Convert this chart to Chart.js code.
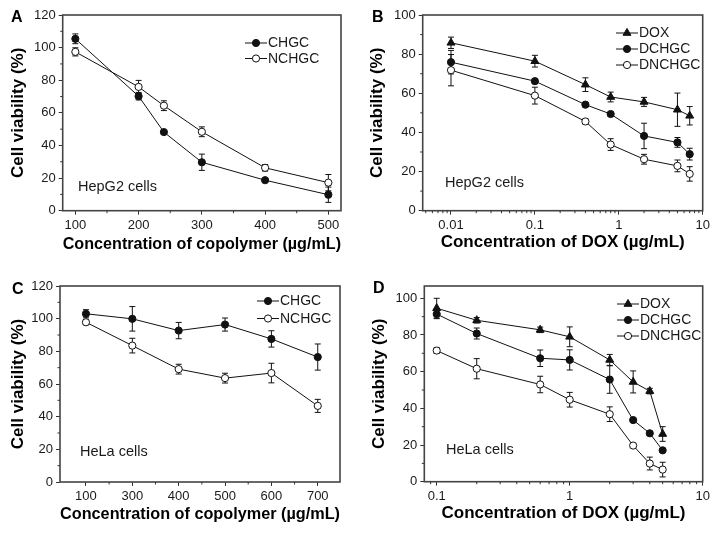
<!DOCTYPE html>
<html>
<head>
<meta charset="utf-8">
<script src="https://cdn.jsdelivr.net/npm/chart.js@4.4.1/dist/chart.umd.min.js"></script>
<style>
body { margin: 0; background: #fff; }
#wrap { position: relative; width: 720px; height: 534px; }
.panel { position: absolute; width: 360px; height: 267px; }
</style>
</head>
<body>
<div id="wrap">
  <div class="panel" style="left:0;top:0"><canvas id="chartA" width="360" height="267"></canvas></div>
  <div class="panel" style="left:360px;top:0"><canvas id="chartB" width="360" height="267"></canvas></div>
  <div class="panel" style="left:0;top:267px"><canvas id="chartC" width="360" height="267"></canvas></div>
  <div class="panel" style="left:360px;top:267px"><canvas id="chartD" width="360" height="267"></canvas></div>
</div>
<script>
// --- Panel A: HepG2, copolymer ---
const aConc = [100, 200, 240, 300, 400, 500];
const aCHGC = [105.4, 70.2, 48.2, 29.7, 18.7, 9.8];
const aCHGCErr = [3, 2.3, 1, 5, 1, 4.7];
const aNCHGC = [97.4, 75.9, 64.4, 48.4, 26.3, 17.2];
const aNCHGCErr = [2.5, 4, 3, 3, 2, 5];
const aXTicks = [100, 200, 300, 400, 500];
const aXMinor = [150, 250, 350, 450];

// --- Panel B: HepG2, DOX ---
const bConc = [0.01, 0.1, 0.4, 0.8, 2, 5, 7];
const bDOX = [85.8, 76.4, 64.4, 58.1, 55.6, 51.6, 48.5];
const bDOXErr = [2.9, 3, 3.5, 2.5, 2.3, 8.5, 4.7];
const bDCHGC = [75.9, 66.2, 54.2, 49.4, 38.2, 34.9, 28.9];
const bDCHGCErr = [6, 1, 1, 1, 6.5, 2.5, 3];
const bDNCHGC = [71.8, 58.8, 45.6, 33.8, 26.3, 22.9, 18.8];
const bDNCHGCErr = [8, 4.3, 1.2, 3, 2.5, 3, 3.7];
const bXTicks = [0.01, 0.1, 1, 10];
const bXMinor = [0.005, 0.006, 0.007, 0.008, 0.009, 0.02, 0.03, 0.04, 0.05, 0.06, 0.07, 0.08, 0.09,
                 0.2, 0.3, 0.4, 0.5, 0.6, 0.7, 0.8, 0.9, 2, 3, 4, 5, 6, 7, 8, 9];

// --- Panel C: HeLa, copolymer ---
const cConc = ['100', '300', '400', '500', '600', '700'];
const cCHGC = [103, 99.9, 92.7, 96.4, 87.6, 76.5];
const cCHGCErr = [2.5, 7.5, 5, 4, 5, 8];
const cNCHGC = [97.8, 83.5, 69.1, 63.6, 66.7, 46.6];
const cNCHGCErr = [1.5, 4.5, 3, 3, 6, 4];

// --- Panel D: HeLa, DOX ---
const dConc = [0.1, 0.2, 0.6, 1, 2, 3, 4, 5];
const dDOX = [94.6, 88, 82.8, 79, 66.4, 54.4, 49.4, 26];
const dDOXErr = [5.4, 1.5, 1.5, 5.4, 3, 6, 1.5, 4];
const dDCHGC = [91.4, 80.8, 67.3, 66.4, 55.7, 33.6, 26.4, 17.1];
const dDCHGCErr = [2.5, 3, 4.5, 5.5, 7.5, 1, 1, 1];
const dDNCHGC = [71.5, 61.6, 53, 44.7, 36.8, 19.7, 9.9, 6.6];
const dDNCHGCErr = [1.5, 5.5, 4.5, 4, 4, 1.2, 3.5, 4];
const dXTicks = [0.1, 1, 10];
const dXMinor = [0.09, 0.2, 0.3, 0.4, 0.5, 0.6, 0.7, 0.8, 0.9, 2, 3, 4, 5, 6, 7, 8, 9];

const yTicks120 = [0, 20, 40, 60, 80, 100, 120];
const yTicks100 = [0, 20, 40, 60, 80, 100];
const yMinor120 = [10, 30, 50, 70, 90, 110];
const yMinor100 = [10, 30, 50, 70, 90];

const FONT = '"Liberation Sans", Arial, Helvetica, sans-serif';
const INK = '#111';
Chart.defaults.font.family = FONT;
Chart.defaults.color = '#1a1a1a';

const STYLES = {
    filled: { pointStyle: 'circle', radius: 3.6, fill: INK },
    open: { pointStyle: 'circle', radius: 3.6, fill: '#fff' },
    tri: { pointStyle: 'triangle', radius: 4.6, fill: INK }
};

function series(label, xs, ys, errs, styleName) {
    const s = STYLES[styleName];
    return {
        label: label,
        data: xs.map((x, i) => ({ x: x, y: ys[i] })),
        err: errs,
        styleName: styleName,
        borderColor: INK,
        borderWidth: 1,
        pointStyle: s.pointStyle,
        pointRadius: s.radius,
        pointHoverRadius: s.radius,
        pointBackgroundColor: s.fill,
        pointBorderColor: INK,
        pointBorderWidth: 1,
        fill: false,
        tension: 0
    };
}

function drawMarker(ctx, styleName, x, y) {
    const s = STYLES[styleName];
    ctx.beginPath();
    if (s.pointStyle === 'triangle') {
        let rad = 0;
        ctx.moveTo(x + Math.sin(rad) * s.radius, y - Math.cos(rad) * s.radius);
        rad += Math.PI * 2 / 3;
        ctx.lineTo(x + Math.sin(rad) * s.radius, y - Math.cos(rad) * s.radius);
        rad += Math.PI * 2 / 3;
        ctx.lineTo(x + Math.sin(rad) * s.radius, y - Math.cos(rad) * s.radius);
        ctx.closePath();
    } else {
        ctx.arc(x, y, s.radius, 0, Math.PI * 2);
    }
    ctx.fillStyle = s.fill;
    ctx.fill();
    ctx.lineWidth = 1;
    ctx.strokeStyle = INK;
    ctx.stroke();
}

// error bars, frame, minor ticks, legend, labels
const panelDecor = {
    id: 'panelDecor',
    beforeDatasetsDraw(chart) {
        const ctx = chart.ctx;
        const yScale = chart.scales.y;
        ctx.save();
        ctx.strokeStyle = INK;
        ctx.lineWidth = 1;
        chart.data.datasets.forEach((ds, di) => {
            const meta = chart.getDatasetMeta(di);
            meta.data.forEach((el, i) => {
                const v = ds.data[i].y;
                const e = ds.err[i];
                const yt = yScale.getPixelForValue(v + e);
                const yb = yScale.getPixelForValue(v - e);
                ctx.beginPath();
                ctx.moveTo(el.x, yt); ctx.lineTo(el.x, yb);
                ctx.moveTo(el.x - 3, yt); ctx.lineTo(el.x + 3, yt);
                ctx.moveTo(el.x - 3, yb); ctx.lineTo(el.x + 3, yb);
                ctx.stroke();
            });
        });
        ctx.restore();
    },
    afterDraw(chart) {
        const o = chart.options.plugins.panelDecor;
        const ctx = chart.ctx;
        const a = chart.chartArea;
        const xs = chart.scales.x, ys = chart.scales.y;
        ctx.save();
        ctx.strokeStyle = '#444';
        ctx.lineWidth = 1.6;
        ctx.strokeRect(a.left, a.top, a.right - a.left, a.bottom - a.top);

        ctx.strokeStyle = '#333';
        ctx.lineWidth = 1;
        ctx.beginPath();
        o.xMinor.forEach(v => {
            const px = xs.getPixelForValue(v);
            if (px < a.left || px > a.right) return;
            ctx.moveTo(px, a.bottom); ctx.lineTo(px, a.bottom + 2.5);
        });
        o.yMinor.forEach(v => {
            const py = ys.getPixelForValue(v);
            ctx.moveTo(a.left, py); ctx.lineTo(a.left - 2.5, py);
        });
        ctx.stroke();

        // legend inside the plot
        ctx.font = '14px ' + FONT;
        ctx.textBaseline = 'middle';
        ctx.textAlign = 'left';
        chart.data.datasets.forEach((ds, i) => {
            const ly = o.legend.y + i * o.legend.gap;
            ctx.beginPath();
            ctx.moveTo(o.legend.x, ly); ctx.lineTo(o.legend.x + 22, ly);
            ctx.strokeStyle = INK; ctx.lineWidth = 1;
            ctx.stroke();
            drawMarker(ctx, ds.styleName, o.legend.x + 11, ly);
            ctx.fillStyle = '#1a1a1a';
            ctx.fillText(ds.label, o.legend.x + 23, ly + 0.5);
        });

        ctx.font = '14.5px ' + FONT;
        ctx.fillStyle = '#1a1a1a';
        ctx.fillText(o.note, o.noteX, o.noteY);

        ctx.font = 'bold 16px ' + FONT;
        ctx.fillStyle = '#000';
        ctx.textBaseline = 'alphabetic';
        ctx.fillText(o.letter, o.letterX, o.letterY);
        ctx.restore();
    }
};

function makePanel(id, p) {
    return new Chart(document.getElementById(id), {
        type: 'line',
        data: { datasets: p.datasets },
        plugins: [panelDecor],
        options: {
            responsive: false,
            animation: false,
            layout: { padding: { top: p.area.t, right: 360 - p.area.r, left: 0, bottom: 0 } },
            plugins: {
                legend: { display: false },
                tooltip: { enabled: false },
                panelDecor: {
                    xMinor: p.xMinor, yMinor: p.yMinor,
                    legend: p.legend, note: p.note, noteX: p.noteX, noteY: p.noteY,
                    letter: p.letter, letterX: p.letterX, letterY: p.letterY
                }
            },
            scales: {
                x: {
                    type: p.xType,
                    min: p.xMin, max: p.xMax,
                    border: { display: false },
                    grid: { drawOnChartArea: false, tickLength: 4, color: '#333' },
                    afterBuildTicks: s => { s.ticks = p.xTicks.map(v => ({ value: v })); },
                    afterFit: s => { s.height = 267 - p.area.b; },
                    ticks: {
                        autoSkip: false, maxRotation: 0, padding: 3,
                        font: { size: 13 }, color: '#1a1a1a',
                        callback: p.xLabel
                    },
                    title: {
                        display: true, text: p.xTitle, color: '#000',
                        font: { size: 17, weight: 'bold' },
                        padding: { top: 0, bottom: p.xTitlePad }
                    }
                },
                y: {
                    type: 'linear',
                    min: 0, max: p.yMax,
                    border: { display: false },
                    grid: { drawOnChartArea: false, tickLength: 4, color: '#333' },
                    afterBuildTicks: s => { s.ticks = p.yTicks.map(v => ({ value: v })); },
                    afterFit: s => { s.width = p.area.l; },
                    ticks: { padding: 3, font: { size: 13 }, color: '#1a1a1a' },
                    title: {
                        display: true, text: 'Cell viability (%)', color: '#000',
                        font: { size: 17, weight: 'bold' },
                        padding: { top: p.yTitlePad, bottom: 0 }
                    }
                }
            }
        }
    });
}

makePanel('chartA', {
    letter: 'A', letterX: 11, letterY: 22,
    area: { l: 62.7, r: 341, t: 15, b: 210.7 },
    xType: 'linear', xMin: 80, xMax: 520, xTicks: aXTicks, xMinor: aXMinor,
    xLabel: v => String(v),
    yMax: 120, yTicks: yTicks120, yMinor: yMinor120,
    xTitle: 'Concentration of copolymer (\u00b5g/mL)', xTitlePad: 12, yTitlePad: 8,
    legend: { x: 245, y: 43, gap: 15.5 },
    note: 'HepG2 cells', noteX: 78, noteY: 187,
    datasets: [
        series('CHGC', aConc, aCHGC, aCHGCErr, 'filled'),
        series('NCHGC', aConc, aNCHGC, aNCHGCErr, 'open')
    ]
});

makePanel('chartB', {
    letter: 'B', letterX: 12, letterY: 22,
    area: { l: 62.7, r: 342.7, t: 15, b: 210.7 },
    xType: 'logarithmic', xMin: 0.0046, xMax: 10, xTicks: bXTicks, xMinor: bXMinor,
    xLabel: v => String(v),
    yMax: 100, yTicks: yTicks100, yMinor: yMinor100,
    xTitle: 'Concentration of DOX (\u00b5g/mL)', xTitlePad: 14, yTitlePad: 7,
    legend: { x: 256, y: 33, gap: 16 },
    note: 'HepG2 cells', noteX: 85, noteY: 183,
    datasets: [
        series('DOX', bConc, bDOX, bDOXErr, 'tri'),
        series('DCHGC', bConc, bDCHGC, bDCHGCErr, 'filled'),
        series('DNCHGC', bConc, bDNCHGC, bDNCHGCErr, 'open')
    ]
});

makePanel('chartC', {
    letter: 'C', letterX: 12, letterY: 27,
    area: { l: 60, r: 340, t: 19, b: 215 },
    xType: 'linear', xMin: -0.56, xMax: 5.48, xTicks: cConc.map((c, i) => i),
    xMinor: [0.5, 1.5, 2.5, 3.5, 4.5],
    xLabel: v => cConc[v],
    yMax: 120, yTicks: yTicks120, yMinor: yMinor120,
    xTitle: 'Concentration of copolymer (\u00b5g/mL)', xTitlePad: 9, yTitlePad: 8,
    legend: { x: 257, y: 34, gap: 17.5 },
    note: 'HeLa cells', noteX: 80, noteY: 185,
    datasets: [
        series('CHGC', cConc.map((c, i) => i), cCHGC, cCHGCErr, 'filled'),
        series('NCHGC', cConc.map((c, i) => i), cNCHGC, cNCHGCErr, 'open')
    ]
});

makePanel('chartD', {
    letter: 'D', letterX: 13, letterY: 26,
    area: { l: 64.3, r: 342.7, t: 19, b: 214.7 },
    xType: 'logarithmic', xMin: 0.0807, xMax: 10, xTicks: dXTicks, xMinor: dXMinor,
    xLabel: v => String(v),
    yMax: 106.7, yTicks: yTicks100, yMinor: yMinor100,
    xTitle: 'Concentration of DOX (\u00b5g/mL)', xTitlePad: 10, yTitlePad: 9,
    legend: { x: 257, y: 37, gap: 16 },
    note: 'HeLa cells', noteX: 86, noteY: 183,
    datasets: [
        series('DOX', dConc, dDOX, dDOXErr, 'tri'),
        series('DCHGC', dConc, dDCHGC, dDCHGCErr, 'filled'),
        series('DNCHGC', dConc, dDNCHGC, dDNCHGCErr, 'open')
    ]
});
</script>
</body>
</html>
